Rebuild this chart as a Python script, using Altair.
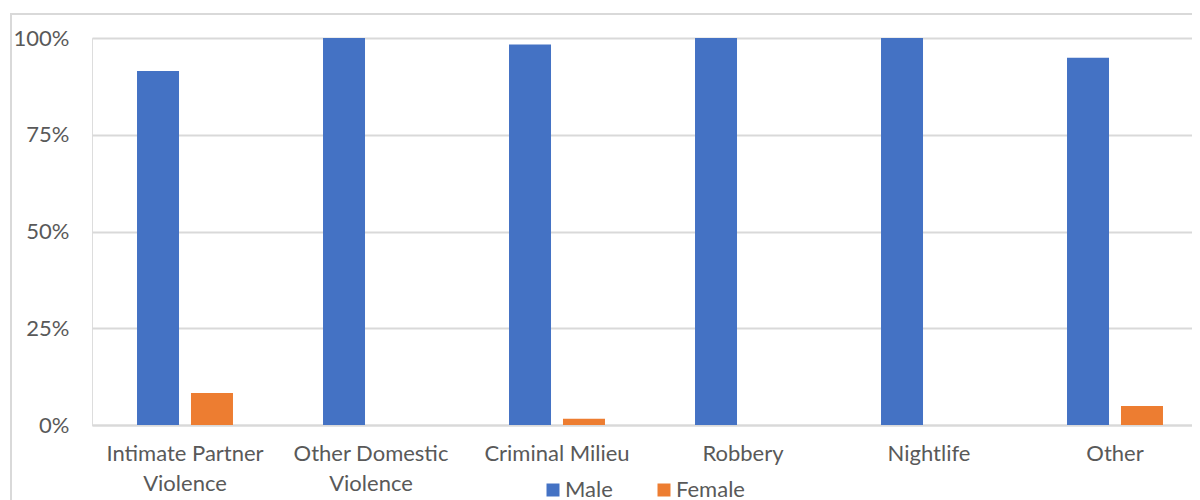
import altair as alt
import pandas as pd

categories = ["Intimate Partner Violence", "Other Domestic Violence", "Criminal Milieu",
              "Robbery", "Nightlife", "Other"]
male = [91.5, 100.0, 98.3, 100.0, 100.0, 94.9]
female = [8.3, 0.0, 1.6, 0.0, 0.0, 4.9]
series = ["Male", "Female"]
colors = ["#4472C4", "#ED7D31"]
y_ticks = [0, 25, 50, 75, 100]

rows = []
for c, m, f in zip(categories, male, female):
    rows.append({"category": c, "sex": "Male", "value": m})
    rows.append({"category": c, "sex": "Female", "value": f})
df = pd.DataFrame(rows)

label_expr = ("datum.label == 'Intimate Partner Violence' ? ['Intimate Partner', 'Violence'] : "
              "datum.label == 'Other Domestic Violence' ? ['Other Domestic', 'Violence'] : datum.label")

FONT = "Lato"
GRAY = "#595959"
GRID = "#D9D9D9"
FS = 22

bars = alt.Chart(df).mark_bar().encode(
    x=alt.X("category:N", sort=categories,
            scale=alt.Scale(paddingInner=0.484, paddingOuter=0.242, range=[0, 1116]),
            axis=alt.Axis(title=None, labelAngle=0, labelExpr=label_expr, ticks=False,
                          domainColor=GRID, domainWidth=2, labelPadding=18,
                          labelFont=FONT, labelFontSize=FS, labelColor=GRAY,
                          labelLineHeight=30, labelBaseline="top")),
    xOffset=alt.XOffset("sex:N", sort=series, scale=alt.Scale(paddingInner=0.222, paddingOuter=0)),
    y=alt.Y("value:Q", scale=alt.Scale(domain=[0, 100], nice=False),
            axis=alt.Axis(title=None, values=y_ticks, labelExpr="datum.value + '%'",
                          ticks=False, domain=False, gridColor=GRID, gridWidth=2,
                          labelPadding=23, labelFont=FONT, labelFontSize=FS, labelColor=GRAY)),
    color=alt.Color("sex:N", sort=series, scale=alt.Scale(domain=series, range=colors),
                    legend=alt.Legend(title=None, orient="none", direction="horizontal",
                                      legendX=450, legendY=441, symbolType="square",
                                      symbolSize=169, symbolStrokeWidth=0, columnPadding=40,
                                      labelOffset=1, padding=0,
                                      labelFont=FONT, labelFontSize=FS, labelColor=GRAY)),
)

frame = alt.Chart(pd.DataFrame({"a": [0]})).mark_rect(
    fill=None, stroke=GRID, strokeWidth=2, clip=False
).encode(x=alt.value(-81), x2=alt.value(1200), y=alt.value(-24), y2=alt.value(520))

chart = alt.layer(frame, bars).properties(
    width=1100, height=387,
    autosize=alt.AutoSizeParams(type="none"),
    padding={"left": 84, "top": 30, "right": 0, "bottom": 75},
).configure_view(stroke=None).configure(background="white")

chart.save("out.html", embed_options={"renderer": "svg", "actions": False})
